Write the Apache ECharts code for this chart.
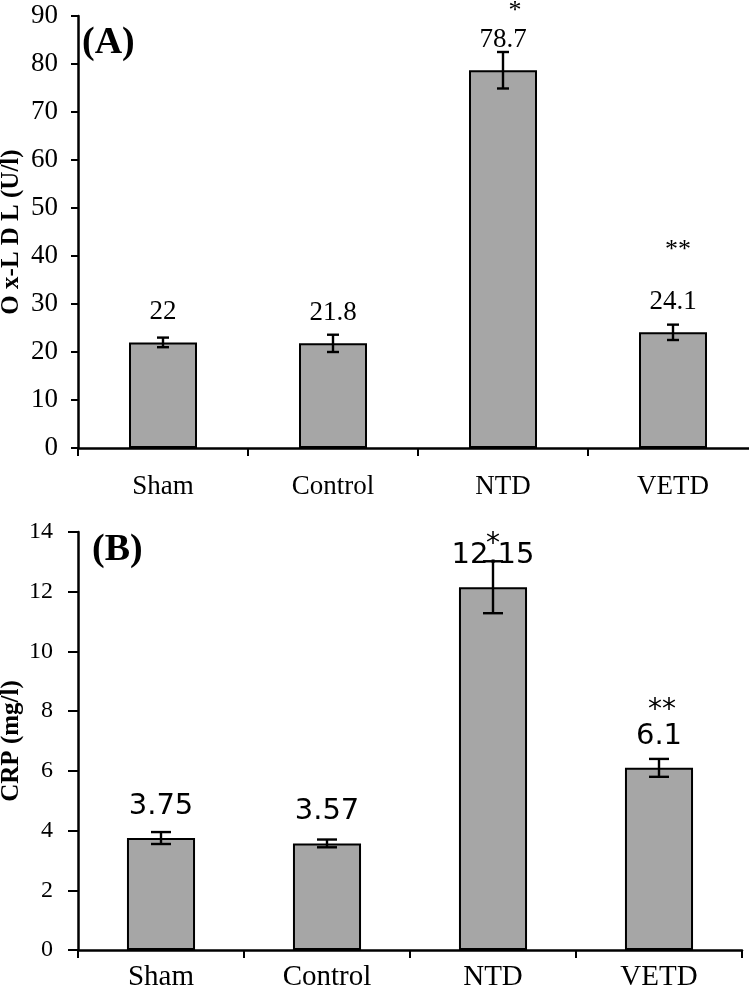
<!DOCTYPE html>
<html>
<head>
<meta charset="utf-8">
<script src="https://cdn.jsdelivr.net/npm/echarts@6/dist/echarts.min.js"></script>
<style>
  html, body { margin: 0; padding: 0; background: #ffffff; }
  #chart { width: 749px; height: 992px; }
</style>
</head>
<body>
<div id="chart"></div>
<script>
// ---- data ----
const categories = ['Sham', 'Control', 'NTD', 'VETD'];
const oxldlMean = [22, 21.8, 78.7, 24.1];
const oxldlErr = [1.0, 1.8, 3.8, 1.6];
const oxldlSig = ['', '', '*', '**'];
const crpMean = [3.75, 3.57, 12.15, 6.1];
const crpErr = [0.2, 0.13, 0.87, 0.3];
const crpSig = ['', '', '*', '**'];

// ---- styling helpers ----
const serif = 'Liberation Serif, Times New Roman, serif';
const sans = 'DejaVu Sans, sans-serif';
const barColor = '#a6a6a6';

function errorSeries(gridIdx, means, errs, capHalf) {
  return {
    type: 'custom',
    xAxisIndex: gridIdx, yAxisIndex: gridIdx,
    data: means.map((m, i) => [i, m - errs[i], m + errs[i]]),
    z: 10,
    silent: true,
    renderItem: function (params, api) {
      const lo = api.coord([api.value(0), api.value(1)]);
      const hi = api.coord([api.value(0), api.value(2)]);
      const st = { stroke: '#000', lineWidth: 2.4 };
      return {
        type: 'group',
        children: [
          { type: 'line', shape: { x1: lo[0], y1: lo[1], x2: hi[0], y2: hi[1] }, style: st },
          { type: 'line', shape: { x1: hi[0] - capHalf, y1: hi[1], x2: hi[0] + capHalf, y2: hi[1] }, style: st },
          { type: 'line', shape: { x1: lo[0] - capHalf, y1: lo[1], x2: lo[0] + capHalf, y2: lo[1] }, style: st }
        ]
      };
    }
  };
}

function sigSeries(gridIdx, means, sig, dx, dy, font) {
  return {
    type: 'custom',
    xAxisIndex: gridIdx, yAxisIndex: gridIdx,
    data: means.map((m, i) => [i, m]),
    z: 11,
    silent: true,
    renderItem: function (params, api) {
      const i = params.dataIndex;
      if (!sig[i]) return null;
      const p = api.coord([api.value(0), api.value(1)]);
      return {
        type: 'text',
        style: {
          text: sig[i], x: p[0] + dx[i], y: p[1] - dy[i],
          textAlign: 'center', textVerticalAlign: 'middle',
          font: font, fill: '#000'
        }
      };
    }
  };
}

const axisLineStyle = { color: '#000', width: 2.5 };

const option = {
  backgroundColor: '#ffffff',
  animation: false,
  title: [
    { text: '(A)', left: 82, top: 24, padding: 0,
      textStyle: { fontFamily: serif, fontWeight: 'bold', fontSize: 38, color: '#000' } },
    { text: '(B)', left: 92, top: 531, padding: 0,
      textStyle: { fontFamily: serif, fontWeight: 'bold', fontSize: 38, color: '#000' } }
  ],
  grid: [
    { left: 78, top: 16, width: 680, height: 432, containLabel: false, outerBoundsMode: 'none' },
    { left: 78, top: 532, width: 664, height: 418, containLabel: false, outerBoundsMode: 'none' }
  ],
  xAxis: [
    {
      type: 'category', gridIndex: 0, data: categories,
      axisLine: { lineStyle: axisLineStyle },
      axisTick: { show: true, alignWithLabel: false, length: 8, lineStyle: { color: '#000', width: 2 } },
      axisLabel: { fontFamily: serif, fontSize: 27, color: '#000', margin: 25 },
      splitLine: { show: false }
    },
    {
      type: 'category', gridIndex: 1, data: categories,
      axisLine: { lineStyle: axisLineStyle },
      axisTick: { show: true, alignWithLabel: false, length: 8, lineStyle: { color: '#000', width: 2 } },
      axisLabel: { fontFamily: serif, fontSize: 29, color: '#000', margin: 13 },
      splitLine: { show: false }
    }
  ],
  yAxis: [
    {
      type: 'value', gridIndex: 0, min: 0, max: 90, interval: 10,
      name: 'O x-L D L (U/l)', nameLocation: 'middle', nameGap: 54, nameRotate: 90,
      nameMoveOverlap: false,
      nameTextStyle: { fontFamily: serif, fontWeight: 'bold', fontSize: 25, color: '#000' },
      axisLine: { show: true, lineStyle: axisLineStyle },
      axisTick: { show: true, length: 7, lineStyle: { color: '#000', width: 2 } },
      axisLabel: { fontFamily: serif, fontSize: 27, color: '#000', margin: 20 },
      splitLine: { show: false }
    },
    {
      type: 'value', gridIndex: 1, min: 0, max: 14, interval: 2,
      name: 'CRP (mg/l)', nameLocation: 'middle', nameGap: 54, nameRotate: 90,
      nameMoveOverlap: false,
      nameTextStyle: { fontFamily: serif, fontWeight: 'bold', fontSize: 25, color: '#000' },
      axisLine: { show: true, lineStyle: axisLineStyle },
      axisTick: { show: true, length: 10, lineStyle: { color: '#000', width: 2 } },
      axisLabel: { fontFamily: serif, fontSize: 24, color: '#000', margin: 25 },
      splitLine: { show: false }
    }
  ],
  series: [
    {
      type: 'bar', xAxisIndex: 0, yAxisIndex: 0, data: oxldlMean,
      barWidth: '40%',
      itemStyle: { color: barColor, borderColor: '#000', borderWidth: 2 },
      label: { show: true, position: 'top', distance: 17,
        fontFamily: serif, fontSize: 27, color: '#000',
        formatter: p => String(p.value) }
    },
    errorSeries(0, oxldlMean, oxldlErr, 6),
    sigSeries(0, oxldlMean, oxldlSig, [0, 0, 12, 5], [0, 0, 59, 82], '26px ' + serif),
    {
      type: 'bar', xAxisIndex: 1, yAxisIndex: 1, data: crpMean,
      barWidth: '41%',
      itemStyle: { color: barColor, borderColor: '#000', borderWidth: 2 },
      label: { show: true, position: 'top', distance: 17,
        fontFamily: sans, fontSize: 29, color: '#000',
        formatter: p => String(p.value) }
    },
    errorSeries(1, crpMean, crpErr, 10),
    sigSeries(1, crpMean, crpSig, [0, 0, 0, 3], [0, 0, 43, 57], '28px ' + sans)
  ]
};

const chart = echarts.init(document.getElementById('chart'), null, { renderer: 'canvas' });
chart.setOption(option);
</script>
</body>
</html>
